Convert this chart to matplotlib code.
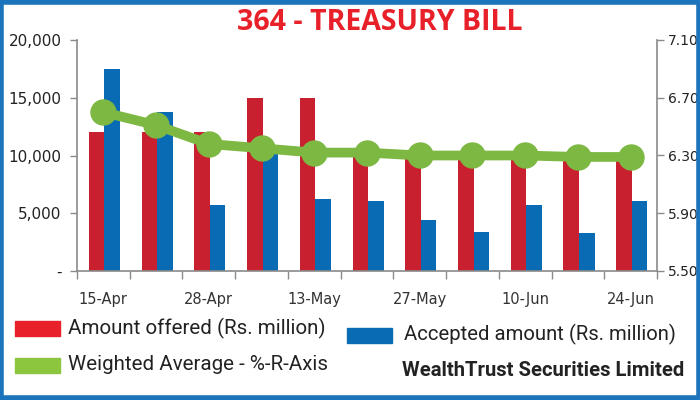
import matplotlib
matplotlib.use("Agg")
import matplotlib.pyplot as plt
from matplotlib.patches import Rectangle
from matplotlib.ticker import FuncFormatter, FixedLocator
import numpy as np

categories = ["15-Apr", "22-Apr", "28-Apr", "6-May", "13-May", "20-May",
              "27-May", "3-Jun", "10-Jun", "17-Jun", "24-Jun"]
amount_offered = [12000, 12000, 12000, 15000, 15000, 10000, 10000, 10000, 10000, 10000, 10000]
accepted_amount = [17500, 13800, 5700, 10300, 6200, 6050, 4400, 3400, 5700, 3300, 6050]
weighted_avg = [6.60, 6.51, 6.38, 6.35, 6.32, 6.32, 6.30, 6.30, 6.30, 6.29, 6.29]
left_ticks = [0, 5000, 10000, 15000, 20000]
right_ticks = [5.50, 5.90, 6.30, 6.70, 7.10]

RED = "#C8202F"
BLUE = "#0A6BB5"
GREEN = "#7DB843"
GRAY = "#8A8A8A"

fig = plt.figure(figsize=(7, 4), dpi=100)
ax = fig.add_axes([0.11, 0.3225, 0.8286, 0.5775])
x = np.arange(len(categories))
w = 0.295
ax.bar(x - w / 2 + 0.02, amount_offered, width=w, color=RED, zorder=2)
ax.bar(x + w / 2 + 0.02, accepted_amount, width=w, color=BLUE, zorder=2)
ax.set_xlim(-0.5, len(categories) - 0.5)
ax.set_ylim(0, 20000)
ax.yaxis.set_major_locator(FixedLocator(left_ticks))
ax.yaxis.set_major_formatter(FuncFormatter(lambda v, p: "-" if v == 0 else f"{int(v):,}"))
ax.set_xticks(x[::2])
ax.set_xticklabels(categories[::2])
ax.set_xticks(np.arange(-0.5, len(categories)), minor=True)
ax.tick_params(axis="x", which="major", length=0, pad=15, labelsize=10.5, labelcolor="#333333")
ax.tick_params(axis="x", which="minor", length=6, width=1, color=GRAY, direction="out")
ax.tick_params(axis="y", length=5, width=1, color=GRAY, labelsize=11, labelcolor="#222222", pad=6)
for s in ["top", "right"]:
    ax.spines[s].set_visible(False)
for s in ["left", "bottom"]:
    ax.spines[s].set_color(GRAY)
    ax.spines[s].set_linewidth(1.2)

ax2 = ax.twinx()
ax2.plot(x, weighted_avg, color=GREEN, lw=7, marker="o", ms=18, solid_capstyle="round", zorder=3)
ax2.set_ylim(5.5, 7.1)
ax2.yaxis.set_major_locator(FixedLocator(right_ticks))
ax2.yaxis.set_major_formatter(FuncFormatter(lambda v, p: f"{v:.2f}"))
ax2.tick_params(axis="y", length=5, width=1, color=GRAY, labelsize=10, labelcolor="#222222", pad=3)
for s in ["top", "left", "bottom"]:
    ax2.spines[s].set_visible(False)
ax2.spines["right"].set_color(GRAY)
ax2.spines["right"].set_linewidth(1.2)

fig.text(0.543, 0.943, "364 - TREASURY BILL", color="#E8202A", fontsize=20.5,
         fontweight="bold", family=["Open Sans", "DejaVu Sans"], ha="center", va="center")

legfont = ["Roboto", "DejaVu Sans"]
fig.add_artist(Rectangle((15 / 700, 1 - 336 / 400), 45 / 700, 15 / 400,
                         transform=fig.transFigure, color="#E8202A"))
fig.text(68 / 700, 1 - 328 / 400, "Amount offered (Rs. million)", fontsize=14.8,
         family=legfont, va="center", ha="left", color="#222222")
fig.add_artist(Rectangle((347 / 700, 1 - 343 / 400), 45 / 700, 15 / 400,
                         transform=fig.transFigure, color=BLUE))
fig.text(404 / 700, 1 - 334 / 400, "Accepted amount (Rs. million)", fontsize=14.6,
         family=legfont, va="center", ha="left", color="#222222")
fig.add_artist(Rectangle((15 / 700, 1 - 373 / 400), 45 / 700, 15 / 400,
                         transform=fig.transFigure, color="#8CC63F"))
fig.text(68 / 700, 1 - 365 / 400, "Weighted Average - %-R-Axis", fontsize=14.8,
         family=legfont, va="center", ha="left", color="#222222")
fig.text(402 / 700, 1 - 371 / 400, "WealthTrust Securities Limited", fontsize=14.6,
         fontweight="bold", family=legfont, va="center", ha="left", color="#222222")

fig.add_artist(Rectangle((0.002, 0.004), 0.996, 0.992, transform=fig.transFigure,
                         fill=False, edgecolor="#1C75BC", lw=4))

fig.savefig("out.png", dpi=100)
